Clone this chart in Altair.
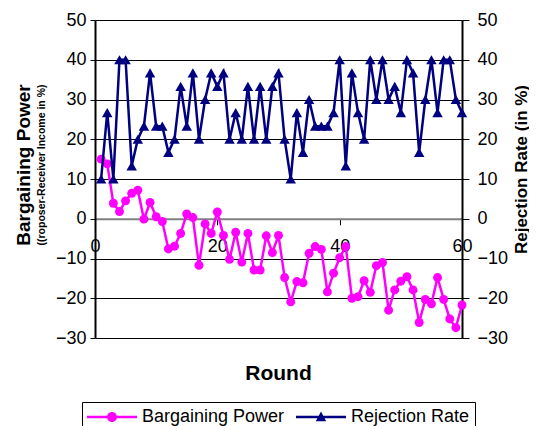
import altair as alt
import pandas as pd

FONT = "Liberation Sans"

rounds = [1, 2, 3, 4, 5, 6, 7, 8, 9, 10,
          11, 12, 13, 14, 15, 16, 17, 18, 19, 20,
          21, 22, 23, 24, 25, 26, 27, 28, 29, 30,
          31, 32, 33, 34, 35, 36, 37, 38, 39, 40,
          41, 42, 43, 44, 45, 46, 47, 48, 49, 50,
          51, 52, 53, 54, 55, 56, 57, 58, 59, 60]

bargaining = [15.0, 13.8, 3.9, 1.8, 4.5, 6.4, 7.2, -0.1, 4.1, 0.5,
              -0.7, -7.6, -6.9, -3.7, 1.2, 0.3, -11.7, -1.3, -3.7, 1.7,
              -4.2, -10.2, -3.4, -10.9, -3.7, -12.9, -12.9, -4.3, -8.5, -4.2,
              -14.8, -20.9, -15.8, -16.1, -8.7, -7.0, -7.7, -18.4, -13.7, -9.8,
              -7.0, -20.0, -19.6, -15.6, -18.5, -11.8, -11.0, -23.0, -17.9, -15.7,
              -14.6, -17.9, -26.1, -20.3, -21.4, -14.8, -20.3, -25.2, -27.4, -21.7]

rejection = [10, 26.7, 10, 40, 40, 13.3, 20, 23.3, 36.7, 23.3,
             23.3, 16.7, 20, 33.3, 23.3, 36.7, 20, 30, 36.7, 33.3,
             36.7, 20, 26.7, 20, 33.3, 20, 33.3, 20, 33.3, 36.7,
             20, 10, 26.7, 16.7, 30, 23.3, 23.3, 23.3, 26.7, 40,
             13.3, 36.7, 26.7, 20, 40, 30, 40, 30, 33.3, 26.7,
             40, 36.7, 16.7, 30, 40, 26.7, 40, 40, 30, 26.7]

series_names = ["Bargaining Power", "Rejection Rate"]
colors = ["#FF00FF", "#000080"]
y_ticks = [-30, -20, -10, 0, 10, 20, 30, 40, 50]
x_ticks = [0, 20, 40, 60]

# legend symbols: line with marker (custom SVG paths, unit = sqrt(size)/2 px)
legend_paths = [
    "M-1,-0.125L4,-0.125L4,0.125L-1,0.125Z M2,0A0.5,0.5 0 1,1 1,0A0.5,0.5 0 1,1 2,0Z",
    "M-1,-0.125L4,-0.125L4,0.125L-1,0.125Z M1.5,-0.55L2.02,0.42L0.98,0.42Z",
]

df_bp = pd.DataFrame({"round": rounds, "value": bargaining, "series": series_names[0]})
df_rr = pd.DataFrame({"round": rounds, "value": rejection, "series": series_names[1]})
df_all = pd.concat([df_bp, df_rr], ignore_index=True)

x_enc = alt.X(
    "round:Q",
    scale=alt.Scale(domain=[0, 60], nice=False, zero=False),
    axis=alt.Axis(
        values=x_ticks, offset=-119.25, grid=False,
        domainColor="#808080", domainWidth=2,
        tickColor="black", tickSize=6, tickWidth=1,
        labelPadding=13, labelFontSize=18, labelFont=FONT, labelColor="black",
        labelFlush=False,
        title="Round", titleFontSize=21, titleFont=FONT, titleFontWeight="bold",
        titleColor="black", titleX=183, titleY=161, titleBaseline="alphabetic",
        titleAlign="center",
    ),
)

y_left = alt.Y(
    "value:Q",
    scale=alt.Scale(domain=[-30, 50], nice=False, zero=False),
    axis=alt.Axis(
        values=y_ticks, orient="left", title=None,
        grid=True, gridColor="black", gridWidth=1, gridOpacity=1,
        domainColor="black", domainWidth=2,
        tickColor="black", tickSize=5, tickWidth=1,
        labelPadding=4, labelFontSize=18, labelFont=FONT, labelColor="black",
        labelFlush=False,
    ),
)

y_right = alt.Y(
    "value:Q",
    scale=alt.Scale(domain=[-30, 50], nice=False, zero=False),
    axis=alt.Axis(
        values=y_ticks, orient="right", grid=False,
        domainColor="black", domainWidth=2,
        tickColor="black", tickSize=7, tickWidth=1,
        labelPadding=8, labelFontSize=18, labelFont=FONT, labelColor="black",
        labelFlush=False,
        title="Rejection Rate (in %)", titleFontSize=17, titleFont=FONT,
        titleFontWeight="bold", titleColor="black", titleAngle=270,
        titleX=59, titleY=149, titleBaseline="middle", titleAlign="center",
    ),
)

legend = alt.Legend(
    title=None, orient="none", legendX=-13, legendY=382,
    direction="horizontal", columns=2,
    symbolSize=400, symbolStrokeWidth=0, symbolOpacity=1,
    labelFontSize=18, labelFont=FONT, labelColor="black", labelOffset=35,
    labelLimit=400, columnPadding=11, rowPadding=0, padding=5,
    strokeColor="black", fillColor="white",
)

bp_line = alt.Chart(df_bp).mark_line(color=colors[0], strokeWidth=2.5).encode(x=x_enc, y=y_left)
bp_pts = alt.Chart(df_bp).mark_point(
    filled=True, shape="circle", size=80, color=colors[0], opacity=1
).encode(x=x_enc, y=y_left)
legend_layer = alt.Chart(df_all).mark_point(filled=True, opacity=0).encode(
    color=alt.Color("series:N", scale=alt.Scale(domain=series_names, range=colors), legend=legend),
    shape=alt.Shape("series:N", scale=alt.Scale(domain=series_names, range=legend_paths), legend=legend),
)

rr_line = alt.Chart(df_rr).mark_line(color=colors[1], strokeWidth=2.5).encode(x=x_enc, y=y_right)
rr_pts = alt.Chart(df_rr).mark_point(
    filled=True, shape="triangle-up", size=110, color=colors[1], opacity=1
).encode(x=x_enc, y=y_right)

left = alt.layer(bp_line, bp_pts, legend_layer)
right = alt.layer(rr_line, rr_pts)

chart = alt.layer(left, right).resolve_scale(y="independent").properties(
    width=367,
    height=318,
    padding={"left": 87, "top": 12, "right": 67, "bottom": 88},
    autosize=alt.AutoSizeParams(type="none"),
    background="white",
    title=alt.TitleParams(
        text="Bargaining Power",
        subtitle="((roposer-Receiver Income in %)",
        orient="left", anchor="middle", frame="group",
        fontSize=19, font=FONT, fontWeight="bold", color="black",
        subtitleFontSize=10.5, subtitleFont=FONT, subtitleFontWeight="bold",
        subtitleColor="black", subtitlePadding=3, offset=8, dx=14,
    ),
).configure_view(strokeWidth=0)

chart.save("out.html", embed_options={"renderer": "svg", "actions": False})
